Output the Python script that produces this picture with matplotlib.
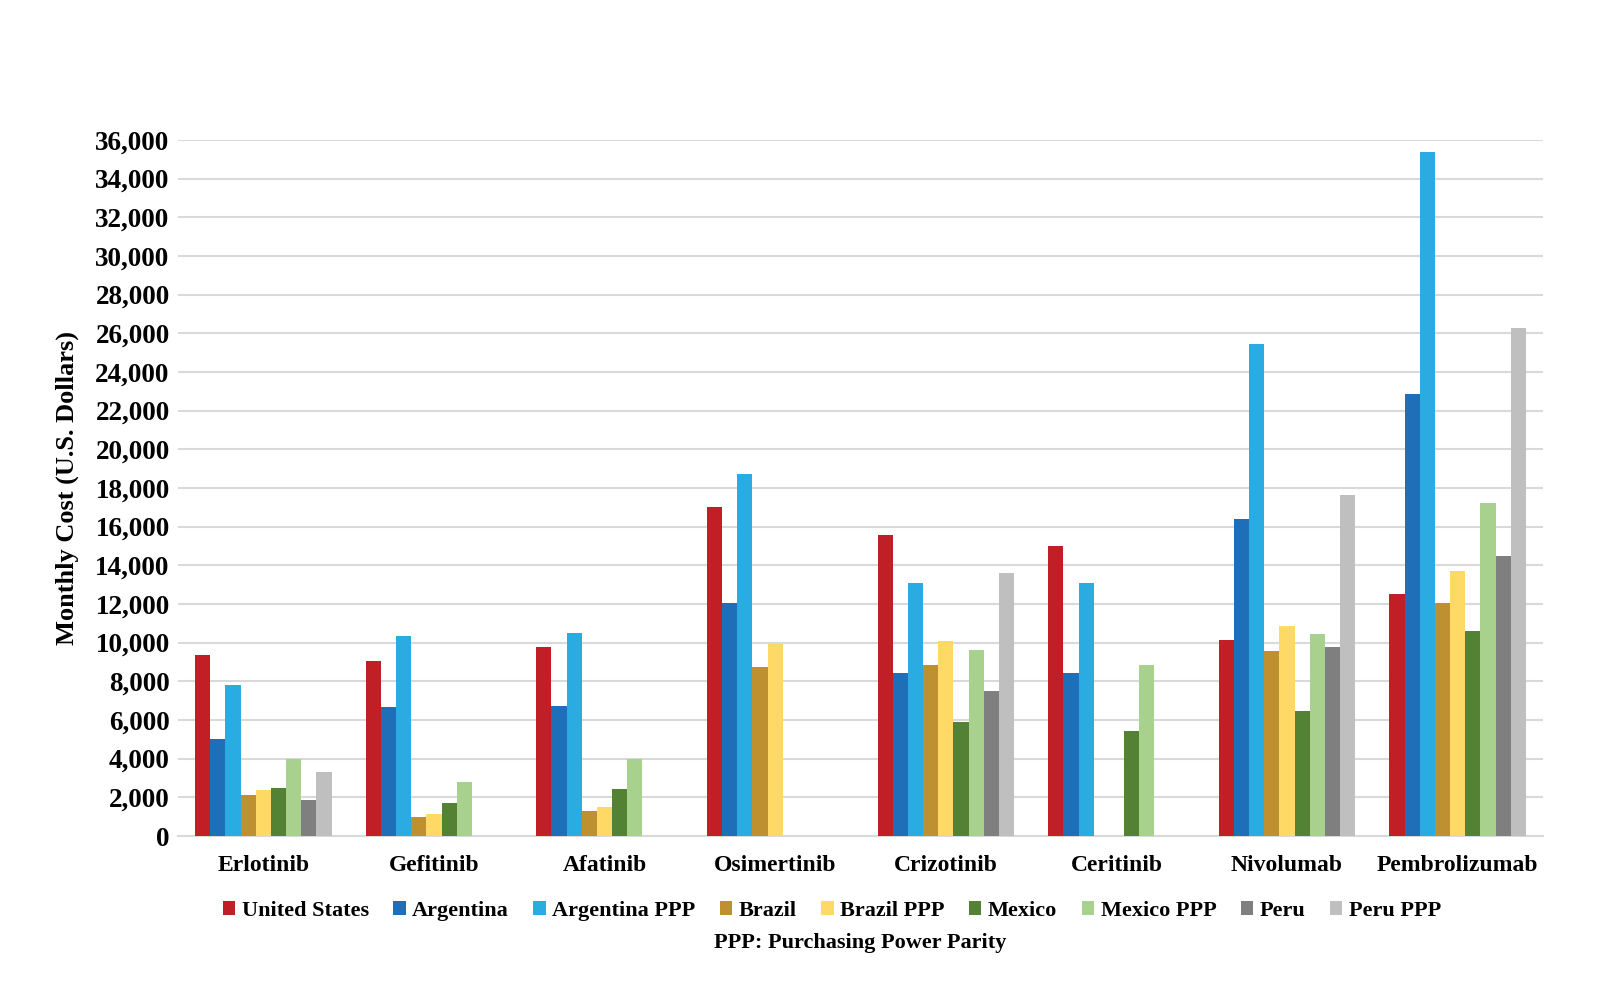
import numpy as np
import matplotlib.pyplot as plt

# ---------------- data ----------------
drugs = ['Erlotinib', 'Gefitinib', 'Afatinib', 'Osimertinib',
         'Crizotinib', 'Ceritinib', 'Nivolumab', 'Pembrolizumab']

nan = np.nan
united_states = [9350, 9070, 9750, 17000, 15550, 15000, 10150, 12500]
argentina     = [5000, 6650, 6750, 12050, 8450, 8450, 16400, 22850]
argentina_ppp = [7800, 10350, 10500, 18700, 13100, 13100, 25450, 35400]
brazil        = [2100, 1000, 1300, 8750, 8850, nan, 9550, 12050]
brazil_ppp    = [2400, 1150, 1500, 9950, 10100, nan, 10850, 13700]
mexico        = [2500, 1700, 2450, nan, 5900, 5450, 6450, 10600]
mexico_ppp    = [4000, 2800, 4000, nan, 9600, 8850, 10450, 17200]
peru          = [1850, nan, nan, nan, 7500, nan, 9750, 14500]
peru_ppp      = [3300, nan, nan, nan, 13600, nan, 17650, 26300]

series_names = ['United States', 'Argentina', 'Argentina PPP', 'Brazil',
                'Brazil PPP', 'Mexico', 'Mexico PPP', 'Peru', 'Peru PPP']
series_vals = [united_states, argentina, argentina_ppp, brazil, brazil_ppp,
               mexico, mexico_ppp, peru, peru_ppp]
colors = ['#C01F26', '#1F6FB8', '#2AACE2', '#BF9030', '#FED966',
          '#548235', '#A9D18E', '#7F7F7F', '#BFBFBF']

plt.rcParams['font.family'] = ['Liberation Serif', 'DejaVu Serif']
plt.rcParams['font.weight'] = 'bold'

fig = plt.figure(figsize=(16.02, 10.05), dpi=100)
ax = fig.add_axes([178/1602, 1-836/1005, (1543-178)/1602, (836-140)/1005])

x = np.arange(len(drugs))
n = len(series_names)
w = 0.8 / n
for i, (name, vals, c) in enumerate(zip(series_names, series_vals, colors)):
    ax.bar(x - 0.4 + w*(i + 0.5), vals, width=w, color=c, label=name,
           edgecolor='none', zorder=3)

ax.set_xlim(-0.5, len(drugs) - 0.5)
ax.set_ylim(0, 36000)
ax.set_yticks(np.arange(0, 36001, 2000))
ax.set_yticklabels([f'{v:,}' for v in range(0, 36001, 2000)],
                   fontsize=19.5, fontweight='bold')
ax.set_xticks(x)
ax.set_xticklabels(drugs, fontsize=17, fontweight='bold')
ax.tick_params(axis='both', length=0)
ax.tick_params(axis='x', pad=14)
ax.tick_params(axis='y', pad=6)
ax.yaxis.grid(True, color='#D9D9D9', linewidth=1.5, zorder=0)
for s in ['top', 'right', 'left']:
    ax.spines[s].set_visible(False)
ax.spines['bottom'].set_color('#D9D9D9')
ax.spines['bottom'].set_linewidth(1.5)

ax.set_ylabel('Monthly Cost (U.S. Dollars)', fontsize=19, fontweight='bold',
              labelpad=12)

leg = fig.legend(loc='center', bbox_to_anchor=(832/1602, 1-911/1005),
                 ncol=n, frameon=False, fontsize=16,
                 handlelength=0.55, handleheight=0.55, handletextpad=0.3,
                 columnspacing=1.1)
fig.text(860/1602, 1-943/1005, 'PPP: Purchasing Power Parity', ha='center',
         va='center', fontsize=16, fontweight='bold')

fig.savefig('out.png', dpi=100)
